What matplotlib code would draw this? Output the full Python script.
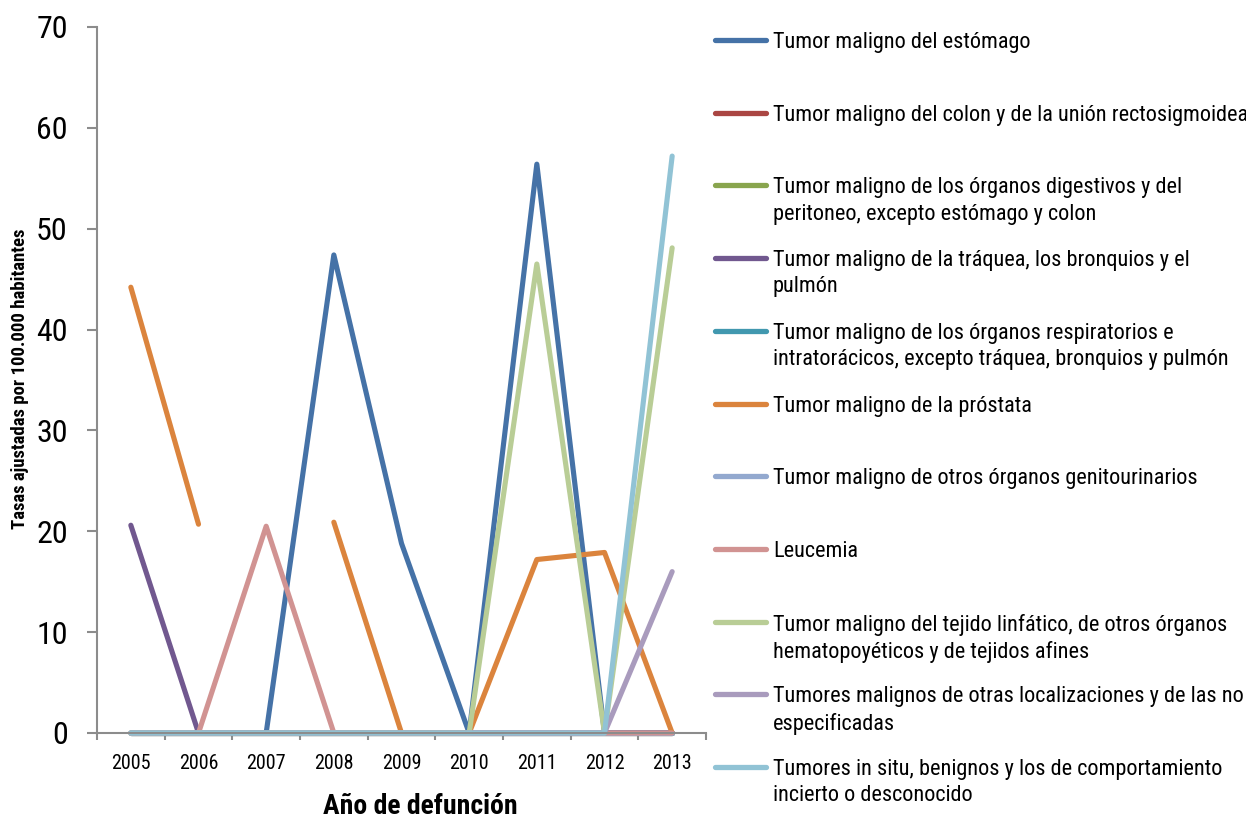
import numpy as np
import matplotlib
matplotlib.use("Agg")
import matplotlib.pyplot as plt
from matplotlib.lines import Line2D

plt.rcParams['font.family'] = ['Roboto Condensed', 'Liberation Sans', 'DejaVu Sans']

years = ['2005', '2006', '2007', '2008', '2009', '2010', '2011', '2012', '2013']

nan = np.nan
estomago = [0, 0, 0, 47.4, 18.8, 0, 56.4, 0, 0]
colon = [0, 0, 0, 0, 0, 0, 0, 0, 0]
digestivos = [0, 0, 0, 0, 0, 0, 0, 0, 0]
traquea = [20.6, 0, 0, 0, 0, 0, 0, 0, 0]
respiratorios = [0, 0, 0, 0, 0, 0, 0, 0, 0]
prostata = [44.2, 20.7, nan, 20.9, 0, 0, 17.2, 17.9, 0]
genitourinarios = [0, 0, 0, 0, 0, 0, 0, 0, 0]
leucemia = [0, 0, 20.5, 0, 0, 0, 0, 0, 0]
linfatico = [0, 0, 0, 0, 0, 0, 46.5, 0, 48.1]
otras = [0, 0, 0, 0, 0, 0, 0, 0, 16.0]
in_situ = [0, 0, 0, 0, 0, 0, 0, 0, 57.2]

series = [estomago, colon, digestivos, traquea, respiratorios, prostata,
          genitourinarios, leucemia, linfatico, otras, in_situ]

labels = [
    "Tumor maligno del estómago",
    "Tumor maligno del colon y de la unión rectosigmoidea",
    "Tumor maligno de los órganos digestivos y del\nperitoneo, excepto estómago y colon",
    "Tumor maligno de la tráquea, los bronquios y el\npulmón",
    "Tumor maligno de los órganos respiratorios e\nintratorácicos, excepto tráquea, bronquios y pulmón",
    "Tumor maligno de la próstata",
    "Tumor maligno de otros órganos genitourinarios",
    "Leucemia",
    "Tumor maligno del tejido linfático, de otros órganos\nhematopoyéticos y de tejidos afines",
    "Tumores malignos de otras localizaciones y de las no\nespecificadas",
    "Tumores in situ, benignos y los de comportamiento\nincierto o desconocido",
]

colors = ['#4572A7', '#AA4643', '#89A54E', '#71588F', '#4198AF', '#DB843D',
          '#93A9CF', '#D19392', '#B9CD96', '#A99BBD', '#91C3D5']

W, H = 1246, 819
fig = plt.figure(figsize=(W / 100, H / 100), dpi=100)
ax = fig.add_axes([97 / W, (H - 733) / H, 609 / W, 706 / H])

x = np.arange(len(years))
for vals, col in zip(series, colors):
    ax.plot(x, vals, color=col, lw=3.7, solid_capstyle='round',
            solid_joinstyle='round', clip_on=False)

ax.set_xlim(-0.5, len(years) - 0.5)
ax.set_ylim(0, 70)
ax.set_yticks(range(0, 71, 10))
ax.set_xticks(x)
ax.set_xticklabels(years)
ax.set_xticks(np.arange(-0.5, len(years), 1), minor=True)

axis_gray = '#8C8C8C'
for side in ['top', 'right']:
    ax.spines[side].set_visible(False)
for side in ['left', 'bottom']:
    ax.spines[side].set_color(axis_gray)
    ax.spines[side].set_linewidth(1.5)

ax.tick_params(axis='y', direction='out', length=7, width=1.5, color=axis_gray,
               labelsize=23, pad=14)
ax.tick_params(axis='x', which='major', length=0, labelsize=14.5, pad=15)
ax.tick_params(axis='x', which='minor', direction='out', length=5, width=1.5,
               color=axis_gray)

fig.text(20 / W, 1 - 379 / H, "Tasas ajustadas por 100.000 habitantes",
         rotation=90, ha='center', va='center', fontsize=13.5, fontweight='bold')
fig.text(420 / W, 1 - 806 / H, "Año de defunción", ha='center', va='center',
         fontsize=20, fontweight='bold')

# legend drawn by hand so two-line entries keep the handle on the first line
for i, (lab, col) in enumerate(zip(labels, colors)):
    yc = 40 + 72.7 * i
    fig.add_artist(Line2D([715 / W, 766 / W], [1 - yc / H, 1 - yc / H],
                          color=col, lw=3.8, solid_capstyle='round'))
    fig.text(773 / W, 1 - (yc - 8) / H, lab, ha='left', va='top',
             fontsize=16, linespacing=1.32)

fig.savefig('out.png', dpi=100)
